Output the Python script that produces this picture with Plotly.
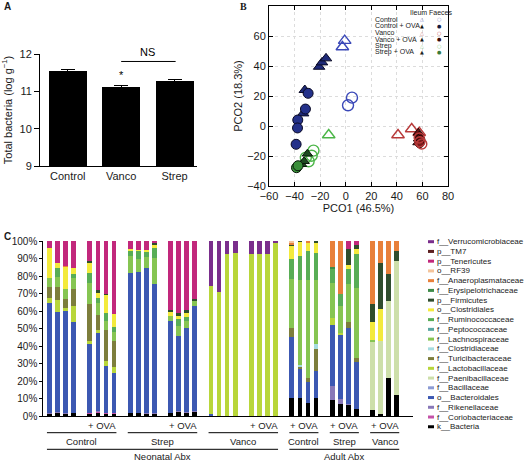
import plotly.graph_objects as go

W, H = 529, 462
def px(x): return x / W
def py(y): return 1 - y / H

FONT = "Liberation Sans, Arial, sans-serif"
TXT = "#1a1a1a"

# ---------------- Panel A data ----------------
groups_a = ["Control", "Vanco", "Strep"]
bacteria_a = [11.55, 11.12, 11.27]
err_a = [0.04, 0.04, 0.04]

# ---------------- Panel B data ----------------
ctrl_il_x = [-2.6, -0.8]
ctrl_il_y = [52.7, 56.9]
ctrl_fa_x = [1.8, 4.9]
ctrl_fa_y = [13.8, 18.9]
ctrlova_il_x = [-20.8, -18.5, -15.4, -32.0, -33.3]
ctrlova_il_y = [39.5, 42.4, 45.1, 24.0, 8.4]
ctrlova_fa_x = [-29.4, -31.5, -37.5, -37.7, -38.8]
ctrlova_fa_y = [21.8, 11.3, 4.0, -1.3, -12.2]
vanco_il_x = [40.9, 51.6, 57.5]
vanco_il_y = [-6.0, -2.0, -4.5]
vanco_fa_x = [58.0, 59.5, 57.5]
vanco_fa_y = [-10.5, -12.0, -8.0]
vancoova_il_x = [56.8, 57.5, 57.0, 56.5]
vancoova_il_y = [-4.5, -6.5, -8.5, -11.0]
vancoova_fa_x = [58.5, 57.8]
vancoova_fa_y = [-9.5, -11.5]
strep_il_x = [-13.3]
strep_il_y = [-6.0]
strep_fa_x = [-31.2, -26.6, -25.2, -29.0]
strep_fa_y = [-21.1, -19.8, -16.4, -23.5]
strepova_il_x = [-34.5, -32.5, -30.0]
strepova_il_y = [-25.5, -23.5, -18.5]
strepova_fa_x = [-38.5, -37.3]
strepova_fa_y = [-27.8, -26.5]

# ---------------- Panel C data (36 samples, % of reads) ----------------
# order: Neonatal Control(4), Control+OVA(4), Strep(4), Strep+OVA(4), Vanco(4), Vanco+OVA(4),
#        Adult Control+OVA(4), Strep+OVA(4), Vanco+OVA(4)
k_Bacteria = [1, 2, 1, 1.5, 1, 2, 1, 1, 1.5, 1.5, 1, 1, 1.5, 2.5, 2, 2.5,
              0, 0, 0, 0, 0, 0, 0, 0, 10.5, 10.1, 7.6, 10.5, 9.1, 6.7, 6.1, 3.8, 3.2, 1, 21.9, 12]
f_Coriobacteriaceae = [0, 0, 0, 0, 0.5, 0.5, 0.5, 0.5] + [0] * 28
f_Rikenellaceae = [0.5, 0.5, 0.5, 0.5, 0.5, 0.5, 0, 0, 0.5, 0.5, 0.5, 0.5, 0.5, 0.5, 0.5, 0.5,
                   0, 0, 0, 0, 0, 0, 0, 0, 0, 0, 0, 0, 8, 2.8, 0.5, 0, 0, 0, 0, 0]
o_Bacteroidales = [63.3, 57, 58.3, 52, 39, 44.6, 27.3, 23.3, 79.9, 80.5, 82.9, 74.1, 52.3, 42.7, 48, 59.9,
                   1, 0, 0, 0, 0, 0, 0, 0, 34.6, 16.6, 12, 15.2, 34.7, 36.8, 43.9, 27.2, 0, 0, 0, 0]
f_Bacillaceae = [0] * 36
f_Paenibacillaceae = [0] * 32 + [39.1, 42, 43.8, 76.6]
f_Lactobacillaceae = [2.4, 7, 2, 8.8, 2, 1.4, 2.6, 3.2, 0, 0, 0, 0, 0, 0, 0, 0,
                      73.3, 70.9, 92.8, 93, 92.8, 92.8, 92.8, 98.7, 0, 0, 0, 0, 4.4, 1.3, 0, 0, 0, 0, 0, 0]
f_Turicibacteraceae = [6.7, 7, 5.3, 9.9, 21, 8.7, 18, 14.9, 0, 0, 0, 0, 0, 0, 0, 0,
                       0, 0, 0, 0, 0, 0, 0, 0, 5.4, 1.4, 2.3, 12.4, 0, 0, 3.2, 2.3, 0, 0, 0, 0]
f_Clostridiaceae = [0] * 25 + [0.9, 0, 2.9] + [0] * 8
f_Lachnospiraceae = [5, 6, 5.4, 6.2, 12, 7, 5, 5, 9.5, 7, 6.3, 14.9, 2.8, 6, 4, 3,
                     0, 0, 0, 0, 0, 0, 0, 0, 27.6, 49, 56, 37, 20, 15, 22, 40, 0.9, 0, 0, 0]
f_Peptococcaceae = [0] * 36
f_Ruminococcaceae = [0, 5, 0, 2.3, 6, 3, 4.5, 3, 3, 4.8, 3, 5.7, 0, 3.5, 2, 0,
                     0, 0, 0, 0, 0, 0, 0, 0, 11.8, 13.4, 16.4, 15.3, 7.6, 6.9, 8.1, 19.1, 0, 0, 0, 0]
o_Clostridiales = [17, 3, 12.4, 3.1, 5.5, 2.8, 10, 7.2, 1, 0.5, 1.2, 1.8, 2.3, 2, 2.5, 0,
                   0, 0, 0, 0, 0, 0, 0, 0, 7.2, 8, 4.7, 5.4, 0, 0, 2.3, 2.8, 10.5, 18, 0, 0]
p_Firmicutes = [0, 0, 0, 0, 1, 1.3, 1, 0, 0, 0, 0, 1, 1, 1.8, 1.3, 1,
                0, 0, 0, 0, 0, 0, 0, 0, 0.9, 0.6, 0, 1.3, 0, 0, 9.1, 2.3, 10.1, 26.6, 15.3, 5.7]
f_Erysipelotrichaceae = [0] * 28 + [1.5, 0, 0, 0, 0, 0, 0, 0]
f_Anaeroplasmataceae = [0, 0, 0.9, 0] + [0] * 20 + [1, 0, 1, 0, 14.7, 30.5, 0, 0, 36.2, 12.4, 19, 5.7]
o_RF39 = [0] * 24 + [1] + [0] * 11
p_Tenericutes = [4, 13.3, 14.2, 15.6, 11.5, 28.2, 30.1, 41.9, 4.6, 5.2, 5.1, 1, 39.6, 41, 39.7, 33.1,
                 0, 0, 0, 0, 0, 0, 0, 0, 0, 0, 0, 0, 0, 0, 4.8, 2.5, 0, 0, 0, 0]
p_TM7 = [0] * 36
f_Verrucomicrobiaceae = [0] * 16 + [25.7, 29.1, 7.2, 7, 7.2, 7.2, 7.2, 1.3] + [0] * 12

pct_ticks = list(range(0, 101, 10))
pct_labels = [f"{v}%" for v in pct_ticks]

# stacked bottom -> top
taxa = [
    ("k__Bacteria", k_Bacteria, "#000000"),
    ("f__Coriobacteriaceae", f_Coriobacteriaceae, "#c452a8"),
    ("f__Rikenellaceae", f_Rikenellaceae, "#8878b8"),
    ("o__Bacteroidales", o_Bacteroidales, "#3c58b2"),
    ("f__Bacillaceae", f_Bacillaceae, "#8c9bd4"),
    ("f__Paenibacillaceae", f_Paenibacillaceae, "#cddfaa"),
    ("f__Lactobacillaceae", f_Lactobacillaceae, "#b8d63a"),
    ("f__Turicibacteraceae", f_Turicibacteraceae, "#7d7e3c"),
    ("f__Clostridiaceae", f_Clostridiaceae, "#a6dce0"),
    ("f__Lachnospiraceae", f_Lachnospiraceae, "#86c552"),
    ("f__Peptococcaceae", f_Peptococcaceae, "#5aa6a0"),
    ("f__Ruminococcaceae", f_Ruminococcaceae, "#58ad56"),
    ("o__Clostridiales", o_Clostridiales, "#f3ea3c"),
    ("p__Firmicutes", p_Firmicutes, "#2f4d2d"),
    ("f__Erysipelotrichaceae", f_Erysipelotrichaceae, "#3d8b48"),
    ("f__Anaeroplasmataceae", f_Anaeroplasmataceae, "#e8803a"),
    ("o__RF39", o_RF39, "#f4c49b"),
    ("p__Tenericutes", p_Tenericutes, "#c2287c"),
    ("p__TM7", p_TM7, "#5c1f1f"),
    ("f__Verrucomicrobiaceae", f_Verrucomicrobiaceae, "#7a2e8c"),
]

n_groups, per_group = 9, 4
bar_x = [g * (per_group + 1) + i for g in range(n_groups) for i in range(per_group)]

fig = go.Figure()

# ---- Panel A ----
fig.add_trace(go.Bar(x=groups_a, y=bacteria_a, width=0.71, marker=dict(color="black", line=dict(width=0)),
                     error_y=dict(type="data", array=err_a, visible=True, color="black", thickness=1.3, width=7),
                     xaxis="x", yaxis="y"))

# ---- Panel B ----
def sc(x, y, sym, color, size=10, fill=None, lw=1.4):
    return go.Scatter(x=x, y=y, mode="markers", xaxis="x2", yaxis="y2",
                      marker=dict(symbol=sym, size=size, color=fill if fill else color,
                                  line=dict(color=color, width=lw)))

C_CTRL, C_VAN, C_STR = "#3a48b8", "#b83a3a", "#4cb648"
fig.add_trace(sc(ctrl_il_x, ctrl_il_y, "triangle-up-open", C_CTRL, 11))
fig.add_trace(sc(ctrl_fa_x, ctrl_fa_y, "circle-open", C_CTRL, 11))
fig.add_trace(sc(vanco_il_x, vanco_il_y, "triangle-up-open", C_VAN, 11))
fig.add_trace(sc(strep_il_x, strep_il_y, "triangle-up-open", C_STR, 11))
fig.add_trace(sc(strep_fa_x, strep_fa_y, "circle-open", C_STR, 11))
fig.add_trace(sc(vancoova_il_x, vancoova_il_y, "triangle-up", "#1a0505", 9, "#6b1212", 1))
fig.add_trace(sc(vancoova_fa_x, vancoova_fa_y, "circle", "#1a0505", 9, "#7a1a1a", 1))
fig.add_trace(sc(vanco_fa_x, vanco_fa_y, "circle-open", C_VAN, 10))
fig.add_trace(sc(ctrlova_il_x, ctrlova_il_y, "triangle-up", "#0a0a25", 10, "#1e2a78", 1))
fig.add_trace(sc(ctrlova_fa_x, ctrlova_fa_y, "circle", "#0a0a25", 10, "#24318a", 1))
fig.add_trace(sc(strepova_il_x, strepova_il_y, "triangle-up", "#0a1a0a", 9, "#1f4a22", 1))
fig.add_trace(sc(strepova_fa_x, strepova_fa_y, "circle", "#0a1a0a", 10, "#3a8f3a", 1))

# ---- Panel C ----
for name, vals, col in taxa:
    fig.add_trace(go.Bar(x=bar_x, y=vals, width=0.58, name=name, xaxis="x3", yaxis="y3",
                         marker=dict(color=col, line=dict(width=0))))

axis_common = dict(showline=True, linecolor="black", linewidth=1, zeroline=False, automargin=False,
                   tickfont=dict(family=FONT, size=11, color=TXT), tickcolor="black")

fig.update_layout(
    width=W, height=H, autosize=False, margin=dict(l=0, r=0, t=0, b=0, pad=0),
    paper_bgcolor="white", plot_bgcolor="white", showlegend=False, barmode="stack",
    font=dict(family=FONT, color=TXT), hovermode=False,
    xaxis=dict(axis_common, domain=[px(40), px(197)], anchor="y", range=[-0.52, 2.42],
               ticks="", showgrid=False),
    yaxis=dict(axis_common, domain=[py(166), py(54)], anchor="x", range=[9, 12],
               tickvals=[9, 10, 11, 12], ticks="outside", ticklen=5, showgrid=False,
               title=dict(text="Total bacteria (log g<sup>−1</sup>)", font=dict(size=11), standoff=6)),
    xaxis2=dict(axis_common, domain=[px(269), px(448)], anchor="y2", range=[-60, 80], dtick=20,
                ticks="inside", ticklen=4, mirror="ticks", showgrid=True, gridcolor="#dcdcdc",
                griddash="dot", gridwidth=1,
                title=dict(text="PCO1 (46.5%)", font=dict(size=11), standoff=2)),
    yaxis2=dict(axis_common, domain=[py(186), py(6)], anchor="x2", range=[-40, 80], dtick=20,
                ticks="inside", ticklen=4, mirror="ticks", showgrid=True, gridcolor="#dcdcdc",
                griddash="dot", gridwidth=1,
                title=dict(text="PCO2 (18.3%)", font=dict(size=11), standoff=2)),
    xaxis3=dict(axis_common, domain=[px(43.3), px(413)], anchor="y3", range=[-0.75, 45.0],
                ticks="", showticklabels=False, showgrid=False),
    yaxis3=dict(axis_common, domain=[py(416), py(241)], anchor="x3", range=[0, 100],
                tickvals=pct_ticks, ticktext=pct_labels, ticks="outside", ticklen=3,
                showgrid=False, tickfont=dict(family=FONT, size=10, color=TXT)),
)

ann = []
shapes = []

def note(text, x, y, xref="paper", yref="paper", xanchor="center", yanchor="middle", size=9.5,
         color=TXT, family=FONT):
    ann.append(dict(text=text, x=x, y=y, xref=xref, yref=yref, xanchor=xanchor, yanchor=yanchor,
                    showarrow=False, font=dict(size=size, color=color, family=family)))

# panel letters
note("<b>A</b>", px(2), py(6), xanchor="left", size=10)
note("<b>B</b>", px(238), py(6), xanchor="left", size=10, family="Liberation Serif, serif")
note("<b>C</b>", px(2), py(236), xanchor="left", size=10)

# Panel A significance
shapes.append(dict(type="line", xref="x", yref="y", x0=1, x1=2.02, y0=11.8, y1=11.8,
                   line=dict(color="black", width=1)))
note("NS", 1.5, 11.83, xref="x", yref="y", yanchor="bottom", size=11, color="black")
note("*", 1, 11.22, xref="x", yref="y", yanchor="bottom", size=11, color="black")

# Panel B legend
note("Ileum", px(418), py(12), size=7)
note("Faeces", px(440.5), py(12), size=7)
leg_b = [
    ("Control", "△", "#6a74c8", "○", "#8a92d0"),
    ("Control + OVA", "▲", "#111111", "●", "#141a40"),
    ("Vanco", "△", "#c86a6a", "○", "#c85050"),
    ("Vanco + OVA", "▲", "#111111", "●", "#3a0a0a"),
    ("Strep", "△", "#8acc88", "○", "#8acc88"),
    ("Strep + OVA", "▲", "#222222", "●", "#3a7a3a"),
]
for i, (lab, s1, c1, s2, c2) in enumerate(leg_b):
    yy = py(19.3 + i * 6.6)
    note(lab, px(373), yy, xanchor="left", size=7)
    note(s1, px(422), yy, size=5, color=c1, family="DejaVu Sans")
    note(s2, px(439), yy, size=5, color=c2, family="DejaVu Sans")

# Panel C legend (top -> bottom)
for i, (name, vals, col) in enumerate(reversed(taxa)):
    yc = 241.7 + i * 9.74
    shapes.append(dict(type="rect", xref="paper", yref="paper", x0=px(428), x1=px(434),
                       y0=py(yc + 1.5), y1=py(yc - 1.5), fillcolor=col, line=dict(width=0)))
    note(name, px(435), py(yc), xanchor="left", size=8)

# Panel C group labels
gc = lambda g: g * (per_group + 1) + (per_group - 1) / 2
gs = lambda g: g * (per_group + 1) - 0.3
ge = lambda g: g * (per_group + 1) + per_group - 1 + 0.3
for g in [1, 3, 5, 6, 7, 8]:
    note("+ OVA", gc(g), py(425), xref="x3")
sub = [("Control", 0, 1), ("Strep", 2, 3), ("Vanco", 4, 5), ("Control", 6, 6), ("Strep", 7, 7),
       ("Vanco", 8, 8)]
for lab, a, b in sub:
    shapes.append(dict(type="line", xref="x3", yref="paper", x0=gs(a), x1=ge(b), y0=py(432.7),
                       y1=py(432.7), line=dict(color="black", width=1)))
    note(lab, (gs(a) + ge(b)) / 2, py(441), xref="x3")
for lab, a, b in [("Neonatal Abx", 0, 5), ("Adult Abx", 6, 8)]:
    shapes.append(dict(type="line", xref="x3", yref="paper", x0=gs(a), x1=ge(b), y0=py(449.3),
                       y1=py(449.3), line=dict(color="black", width=1)))
    note(lab, (gs(a) + ge(b)) / 2, py(456.5), xref="x3")

fig.update_layout(annotations=ann, shapes=shapes)
fig.write_html("out.html", config={"displayModeBar": False, "staticPlot": True},
               post_script="document.body.style.margin='0';document.body.style.overflow='hidden';")
